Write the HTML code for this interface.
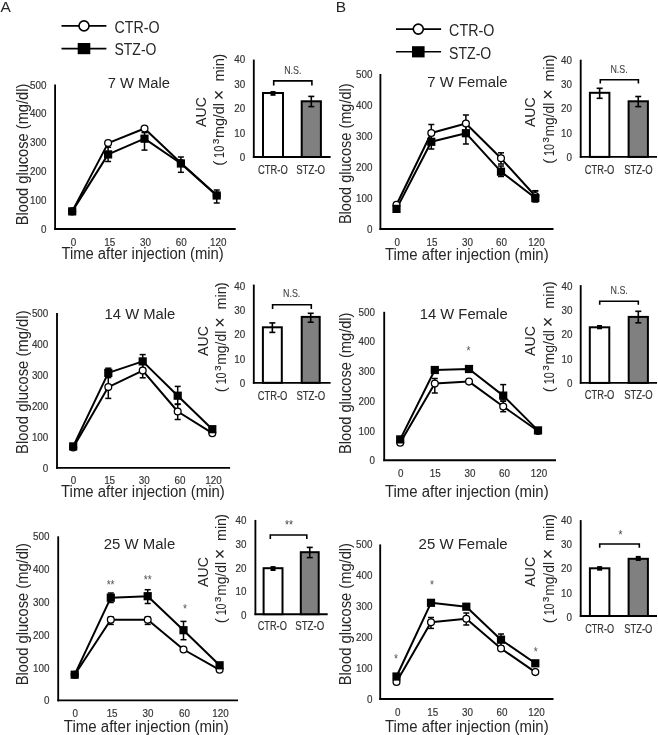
<!DOCTYPE html>
<html><head><meta charset="utf-8"><style>
html,body{margin:0;padding:0;background:#fff;}
svg{display:block;font-family:"Liberation Sans", sans-serif;will-change:transform;filter:blur(0.3px);}
</style></head><body>
<svg width="658" height="735" viewBox="0 0 658 735">
<rect width="658" height="735" fill="#fff"/>
<text x="0.60" y="11.60" font-size="15.5" text-anchor="start" fill="#262626">A</text>
<text x="335.80" y="11.70" font-size="15.5" text-anchor="start" fill="#262626">B</text>
<line x1="61.50" y1="25.90" x2="106.40" y2="25.90" stroke="#000" stroke-width="1.6"/>
<circle cx="84.0" cy="25.9" r="5.0" fill="#fff" stroke="#000" stroke-width="1.6"/>
<text x="114.50" y="32.80" font-size="16" text-anchor="start" fill="#262626" textLength="45.10" lengthAdjust="spacingAndGlyphs">CTR-O</text>
<line x1="61.50" y1="48.60" x2="106.40" y2="48.60" stroke="#000" stroke-width="1.6"/>
<rect x="77.7" y="43.0" width="12.6" height="11.2" fill="#000"/>
<text x="114.50" y="55.40" font-size="16" text-anchor="start" fill="#262626" textLength="41.90" lengthAdjust="spacingAndGlyphs">STZ-O</text>
<line x1="396.00" y1="29.10" x2="441.10" y2="29.10" stroke="#000" stroke-width="1.6"/>
<circle cx="418.3" cy="29.1" r="5.0" fill="#fff" stroke="#000" stroke-width="1.6"/>
<text x="449.10" y="36.00" font-size="16" text-anchor="start" fill="#262626" textLength="45.20" lengthAdjust="spacingAndGlyphs">CTR-O</text>
<line x1="396.00" y1="51.80" x2="441.10" y2="51.80" stroke="#000" stroke-width="1.6"/>
<rect x="412.0" y="46.199999999999996" width="12.6" height="11.2" fill="#000"/>
<text x="449.10" y="58.60" font-size="16" text-anchor="start" fill="#262626" textLength="42.20" lengthAdjust="spacingAndGlyphs">STZ-O</text>
<text transform="translate(46.40,233.00) scale(0.88,1)" font-size="11.2" text-anchor="end" fill="#333333" stroke="#333333" stroke-width="0.18">0</text>
<text transform="translate(46.40,204.10) scale(0.88,1)" font-size="11.2" text-anchor="end" fill="#333333" stroke="#333333" stroke-width="0.18">100</text>
<text transform="translate(46.40,175.20) scale(0.88,1)" font-size="11.2" text-anchor="end" fill="#333333" stroke="#333333" stroke-width="0.18">200</text>
<text transform="translate(46.40,146.30) scale(0.88,1)" font-size="11.2" text-anchor="end" fill="#333333" stroke="#333333" stroke-width="0.18">300</text>
<text transform="translate(46.40,117.40) scale(0.88,1)" font-size="11.2" text-anchor="end" fill="#333333" stroke="#333333" stroke-width="0.18">400</text>
<text transform="translate(46.40,88.50) scale(0.88,1)" font-size="11.2" text-anchor="end" fill="#333333" stroke="#333333" stroke-width="0.18">500</text>
<text transform="translate(73.50,245.60) scale(0.88,1)" font-size="11.2" text-anchor="middle" fill="#333333" stroke="#333333" stroke-width="0.18">0</text>
<text transform="translate(109.70,245.60) scale(0.88,1)" font-size="11.2" text-anchor="middle" fill="#333333" stroke="#333333" stroke-width="0.18">15</text>
<text transform="translate(145.40,245.60) scale(0.88,1)" font-size="11.2" text-anchor="middle" fill="#333333" stroke="#333333" stroke-width="0.18">30</text>
<text transform="translate(181.30,245.60) scale(0.88,1)" font-size="11.2" text-anchor="middle" fill="#333333" stroke="#333333" stroke-width="0.18">60</text>
<text transform="translate(218.20,245.60) scale(0.88,1)" font-size="11.2" text-anchor="middle" fill="#333333" stroke="#333333" stroke-width="0.18">120</text>
<text x="61.40" y="259.40" font-size="16" text-anchor="start" fill="#262626" textLength="162.40" lengthAdjust="spacingAndGlyphs">Time after injection (min)</text>
<text transform="translate(28.40,225.20) rotate(-90)" font-size="15.6" fill="#262626" textLength="141.50" lengthAdjust="spacingAndGlyphs">Blood glucose (mg/dl)</text>
<text x="107.70" y="87.90" font-size="15.5" text-anchor="start" fill="#262626" textLength="62.30" lengthAdjust="spacingAndGlyphs">7 W Male</text>
<line x1="55.10" y1="84.50" x2="55.10" y2="229.90" stroke="#000" stroke-width="1.85"/>
<line x1="54.20" y1="229.00" x2="235.70" y2="229.00" stroke="#000" stroke-width="1.85"/>
<line x1="108.10" y1="147.30" x2="108.10" y2="161.50" stroke="#000" stroke-width="1.5"/>
<line x1="105.10" y1="147.30" x2="111.10" y2="147.30" stroke="#000" stroke-width="1.5"/>
<line x1="105.10" y1="161.50" x2="111.10" y2="161.50" stroke="#000" stroke-width="1.5"/>
<line x1="144.50" y1="132.60" x2="144.50" y2="150.10" stroke="#000" stroke-width="1.5"/>
<line x1="141.50" y1="132.60" x2="147.50" y2="132.60" stroke="#000" stroke-width="1.5"/>
<line x1="141.50" y1="150.10" x2="147.50" y2="150.10" stroke="#000" stroke-width="1.5"/>
<line x1="180.90" y1="157.00" x2="180.90" y2="172.30" stroke="#000" stroke-width="1.5"/>
<line x1="177.90" y1="157.00" x2="183.90" y2="157.00" stroke="#000" stroke-width="1.5"/>
<line x1="177.90" y1="172.30" x2="183.90" y2="172.30" stroke="#000" stroke-width="1.5"/>
<line x1="216.70" y1="190.00" x2="216.70" y2="203.00" stroke="#000" stroke-width="1.5"/>
<line x1="213.70" y1="190.00" x2="219.70" y2="190.00" stroke="#000" stroke-width="1.5"/>
<line x1="213.70" y1="203.00" x2="219.70" y2="203.00" stroke="#000" stroke-width="1.5"/>
<polyline points="72.20,211.40 108.10,143.10 144.50,128.50 180.90,163.00 216.70,195.20" fill="none" stroke="#000" stroke-width="2" stroke-linejoin="round"/>
<polyline points="72.20,211.40 108.10,154.40 144.50,138.70 180.90,163.50 216.70,195.50" fill="none" stroke="#000" stroke-width="2" stroke-linejoin="round"/>
<circle cx="72.20" cy="211.40" r="3.4" fill="#fff" stroke="#000" stroke-width="1.3"/>
<circle cx="108.10" cy="143.10" r="3.4" fill="#fff" stroke="#000" stroke-width="1.3"/>
<circle cx="144.50" cy="128.50" r="3.4" fill="#fff" stroke="#000" stroke-width="1.3"/>
<circle cx="180.90" cy="163.00" r="3.4" fill="#fff" stroke="#000" stroke-width="1.3"/>
<circle cx="216.70" cy="195.20" r="3.4" fill="#fff" stroke="#000" stroke-width="1.3"/>
<rect x="68.10" y="207.30" width="8.2" height="8.2" fill="#000"/>
<rect x="104.00" y="150.30" width="8.2" height="8.2" fill="#000"/>
<rect x="140.40" y="134.60" width="8.2" height="8.2" fill="#000"/>
<rect x="176.80" y="159.40" width="8.2" height="8.2" fill="#000"/>
<rect x="212.60" y="191.40" width="8.2" height="8.2" fill="#000"/>
<text transform="translate(48.30,471.80) scale(0.88,1)" font-size="11.2" text-anchor="end" fill="#333333" stroke="#333333" stroke-width="0.18">0</text>
<text transform="translate(48.30,440.86) scale(0.88,1)" font-size="11.2" text-anchor="end" fill="#333333" stroke="#333333" stroke-width="0.18">100</text>
<text transform="translate(48.30,409.92) scale(0.88,1)" font-size="11.2" text-anchor="end" fill="#333333" stroke="#333333" stroke-width="0.18">200</text>
<text transform="translate(48.30,378.98) scale(0.88,1)" font-size="11.2" text-anchor="end" fill="#333333" stroke="#333333" stroke-width="0.18">300</text>
<text transform="translate(48.30,348.04) scale(0.88,1)" font-size="11.2" text-anchor="end" fill="#333333" stroke="#333333" stroke-width="0.18">400</text>
<text transform="translate(48.30,317.10) scale(0.88,1)" font-size="11.2" text-anchor="end" fill="#333333" stroke="#333333" stroke-width="0.18">500</text>
<text transform="translate(73.50,484.40) scale(0.88,1)" font-size="11.2" text-anchor="middle" fill="#333333" stroke="#333333" stroke-width="0.18">0</text>
<text transform="translate(109.60,484.40) scale(0.88,1)" font-size="11.2" text-anchor="middle" fill="#333333" stroke="#333333" stroke-width="0.18">15</text>
<text transform="translate(144.20,484.40) scale(0.88,1)" font-size="11.2" text-anchor="middle" fill="#333333" stroke="#333333" stroke-width="0.18">30</text>
<text transform="translate(180.00,484.40) scale(0.88,1)" font-size="11.2" text-anchor="middle" fill="#333333" stroke="#333333" stroke-width="0.18">60</text>
<text transform="translate(213.50,484.40) scale(0.88,1)" font-size="11.2" text-anchor="middle" fill="#333333" stroke="#333333" stroke-width="0.18">120</text>
<text x="61.00" y="496.70" font-size="16" text-anchor="start" fill="#262626" textLength="163.80" lengthAdjust="spacingAndGlyphs">Time after injection (min)</text>
<text transform="translate(28.20,453.90) rotate(-90)" font-size="15.6" fill="#262626" textLength="143.50" lengthAdjust="spacingAndGlyphs">Blood glucose (mg/dl)</text>
<text x="104.60" y="318.60" font-size="15.5" text-anchor="start" fill="#262626" textLength="70.60" lengthAdjust="spacingAndGlyphs">14 W Male</text>
<line x1="57.00" y1="313.10" x2="57.00" y2="468.70" stroke="#000" stroke-width="1.85"/>
<line x1="56.10" y1="467.80" x2="230.10" y2="467.80" stroke="#000" stroke-width="1.85"/>
<line x1="108.30" y1="375.80" x2="108.30" y2="398.40" stroke="#000" stroke-width="1.5"/>
<line x1="105.30" y1="375.80" x2="111.30" y2="375.80" stroke="#000" stroke-width="1.5"/>
<line x1="105.30" y1="398.40" x2="111.30" y2="398.40" stroke="#000" stroke-width="1.5"/>
<line x1="142.70" y1="363.40" x2="142.70" y2="377.80" stroke="#000" stroke-width="1.5"/>
<line x1="139.70" y1="363.40" x2="145.70" y2="363.40" stroke="#000" stroke-width="1.5"/>
<line x1="139.70" y1="377.80" x2="145.70" y2="377.80" stroke="#000" stroke-width="1.5"/>
<line x1="177.70" y1="404.40" x2="177.70" y2="419.50" stroke="#000" stroke-width="1.5"/>
<line x1="174.70" y1="404.40" x2="180.70" y2="404.40" stroke="#000" stroke-width="1.5"/>
<line x1="174.70" y1="419.50" x2="180.70" y2="419.50" stroke="#000" stroke-width="1.5"/>
<line x1="108.30" y1="368.20" x2="108.30" y2="377.60" stroke="#000" stroke-width="1.5"/>
<line x1="105.30" y1="368.20" x2="111.30" y2="368.20" stroke="#000" stroke-width="1.5"/>
<line x1="105.30" y1="377.60" x2="111.30" y2="377.60" stroke="#000" stroke-width="1.5"/>
<line x1="142.70" y1="354.60" x2="142.70" y2="368.40" stroke="#000" stroke-width="1.5"/>
<line x1="139.70" y1="354.60" x2="145.70" y2="354.60" stroke="#000" stroke-width="1.5"/>
<line x1="139.70" y1="368.40" x2="145.70" y2="368.40" stroke="#000" stroke-width="1.5"/>
<line x1="177.70" y1="386.40" x2="177.70" y2="404.00" stroke="#000" stroke-width="1.5"/>
<line x1="174.70" y1="386.40" x2="180.70" y2="386.40" stroke="#000" stroke-width="1.5"/>
<line x1="174.70" y1="404.00" x2="180.70" y2="404.00" stroke="#000" stroke-width="1.5"/>
<polyline points="73.20,447.50 108.30,387.10 142.70,370.60 177.70,411.50 212.30,433.20" fill="none" stroke="#000" stroke-width="2" stroke-linejoin="round"/>
<polyline points="73.20,446.40 108.30,372.90 142.70,361.40 177.70,395.70 212.30,429.20" fill="none" stroke="#000" stroke-width="2" stroke-linejoin="round"/>
<circle cx="73.20" cy="447.50" r="3.4" fill="#fff" stroke="#000" stroke-width="1.3"/>
<circle cx="108.30" cy="387.10" r="3.4" fill="#fff" stroke="#000" stroke-width="1.3"/>
<circle cx="142.70" cy="370.60" r="3.4" fill="#fff" stroke="#000" stroke-width="1.3"/>
<circle cx="177.70" cy="411.50" r="3.4" fill="#fff" stroke="#000" stroke-width="1.3"/>
<circle cx="212.30" cy="433.20" r="3.4" fill="#fff" stroke="#000" stroke-width="1.3"/>
<rect x="69.10" y="442.30" width="8.2" height="8.2" fill="#000"/>
<rect x="104.20" y="368.80" width="8.2" height="8.2" fill="#000"/>
<rect x="138.60" y="357.30" width="8.2" height="8.2" fill="#000"/>
<rect x="173.60" y="391.60" width="8.2" height="8.2" fill="#000"/>
<rect x="208.20" y="425.10" width="8.2" height="8.2" fill="#000"/>
<text transform="translate(49.50,704.40) scale(0.88,1)" font-size="11.2" text-anchor="end" fill="#333333" stroke="#333333" stroke-width="0.18">0</text>
<text transform="translate(49.50,671.58) scale(0.88,1)" font-size="11.2" text-anchor="end" fill="#333333" stroke="#333333" stroke-width="0.18">100</text>
<text transform="translate(49.50,638.76) scale(0.88,1)" font-size="11.2" text-anchor="end" fill="#333333" stroke="#333333" stroke-width="0.18">200</text>
<text transform="translate(49.50,605.94) scale(0.88,1)" font-size="11.2" text-anchor="end" fill="#333333" stroke="#333333" stroke-width="0.18">300</text>
<text transform="translate(49.50,573.12) scale(0.88,1)" font-size="11.2" text-anchor="end" fill="#333333" stroke="#333333" stroke-width="0.18">400</text>
<text transform="translate(49.50,540.30) scale(0.88,1)" font-size="11.2" text-anchor="end" fill="#333333" stroke="#333333" stroke-width="0.18">500</text>
<text transform="translate(75.20,717.00) scale(0.88,1)" font-size="11.2" text-anchor="middle" fill="#333333" stroke="#333333" stroke-width="0.18">0</text>
<text transform="translate(112.10,717.00) scale(0.88,1)" font-size="11.2" text-anchor="middle" fill="#333333" stroke="#333333" stroke-width="0.18">15</text>
<text transform="translate(147.90,717.00) scale(0.88,1)" font-size="11.2" text-anchor="middle" fill="#333333" stroke="#333333" stroke-width="0.18">30</text>
<text transform="translate(184.50,717.00) scale(0.88,1)" font-size="11.2" text-anchor="middle" fill="#333333" stroke="#333333" stroke-width="0.18">60</text>
<text transform="translate(220.50,717.00) scale(0.88,1)" font-size="11.2" text-anchor="middle" fill="#333333" stroke="#333333" stroke-width="0.18">120</text>
<text x="63.80" y="731.60" font-size="16" text-anchor="start" fill="#262626" textLength="164.90" lengthAdjust="spacingAndGlyphs">Time after injection (min)</text>
<text transform="translate(28.20,685.20) rotate(-90)" font-size="15.6" fill="#262626" textLength="142.20" lengthAdjust="spacingAndGlyphs">Blood glucose (mg/dl)</text>
<text x="103.80" y="548.60" font-size="15.5" text-anchor="start" fill="#262626" textLength="71.40" lengthAdjust="spacingAndGlyphs">25 W Male</text>
<line x1="58.20" y1="536.30" x2="58.20" y2="701.30" stroke="#000" stroke-width="1.85"/>
<line x1="57.30" y1="700.40" x2="238.00" y2="700.40" stroke="#000" stroke-width="1.85"/>
<line x1="110.80" y1="617.00" x2="110.80" y2="624.40" stroke="#000" stroke-width="1.5"/>
<line x1="107.80" y1="617.00" x2="113.80" y2="617.00" stroke="#000" stroke-width="1.5"/>
<line x1="107.80" y1="624.40" x2="113.80" y2="624.40" stroke="#000" stroke-width="1.5"/>
<line x1="147.70" y1="617.00" x2="147.70" y2="624.40" stroke="#000" stroke-width="1.5"/>
<line x1="144.70" y1="617.00" x2="150.70" y2="617.00" stroke="#000" stroke-width="1.5"/>
<line x1="144.70" y1="624.40" x2="150.70" y2="624.40" stroke="#000" stroke-width="1.5"/>
<line x1="110.80" y1="593.00" x2="110.80" y2="602.50" stroke="#000" stroke-width="1.5"/>
<line x1="107.80" y1="593.00" x2="113.80" y2="593.00" stroke="#000" stroke-width="1.5"/>
<line x1="107.80" y1="602.50" x2="113.80" y2="602.50" stroke="#000" stroke-width="1.5"/>
<line x1="147.70" y1="589.70" x2="147.70" y2="603.50" stroke="#000" stroke-width="1.5"/>
<line x1="144.70" y1="589.70" x2="150.70" y2="589.70" stroke="#000" stroke-width="1.5"/>
<line x1="144.70" y1="603.50" x2="150.70" y2="603.50" stroke="#000" stroke-width="1.5"/>
<line x1="183.50" y1="621.40" x2="183.50" y2="639.70" stroke="#000" stroke-width="1.5"/>
<line x1="180.50" y1="621.40" x2="186.50" y2="621.40" stroke="#000" stroke-width="1.5"/>
<line x1="180.50" y1="639.70" x2="186.50" y2="639.70" stroke="#000" stroke-width="1.5"/>
<polyline points="74.70,674.70 110.80,619.70 147.70,619.70 183.50,649.50 219.60,669.80" fill="none" stroke="#000" stroke-width="2" stroke-linejoin="round"/>
<polyline points="74.70,674.70 110.80,597.70 147.70,596.20 183.50,630.20 219.60,665.30" fill="none" stroke="#000" stroke-width="2" stroke-linejoin="round"/>
<circle cx="74.70" cy="674.70" r="3.4" fill="#fff" stroke="#000" stroke-width="1.3"/>
<circle cx="110.80" cy="619.70" r="3.4" fill="#fff" stroke="#000" stroke-width="1.3"/>
<circle cx="147.70" cy="619.70" r="3.4" fill="#fff" stroke="#000" stroke-width="1.3"/>
<circle cx="183.50" cy="649.50" r="3.4" fill="#fff" stroke="#000" stroke-width="1.3"/>
<circle cx="219.60" cy="669.80" r="3.4" fill="#fff" stroke="#000" stroke-width="1.3"/>
<rect x="70.60" y="670.60" width="8.2" height="8.2" fill="#000"/>
<rect x="106.70" y="593.60" width="8.2" height="8.2" fill="#000"/>
<rect x="143.60" y="592.10" width="8.2" height="8.2" fill="#000"/>
<rect x="179.40" y="626.10" width="8.2" height="8.2" fill="#000"/>
<rect x="215.50" y="661.20" width="8.2" height="8.2" fill="#000"/>
<text transform="translate(110.60,588.80) scale(0.85,1)" font-size="12" text-anchor="middle" fill="#555">**</text>
<text transform="translate(147.80,584.30) scale(0.85,1)" font-size="12" text-anchor="middle" fill="#555">**</text>
<text transform="translate(185.00,612.80) scale(0.85,1)" font-size="12" text-anchor="middle" fill="#555">*</text>
<text transform="translate(372.50,233.00) scale(0.88,1)" font-size="11.2" text-anchor="end" fill="#333333" stroke="#333333" stroke-width="0.18">0</text>
<text transform="translate(372.50,202.00) scale(0.88,1)" font-size="11.2" text-anchor="end" fill="#333333" stroke="#333333" stroke-width="0.18">100</text>
<text transform="translate(372.50,171.00) scale(0.88,1)" font-size="11.2" text-anchor="end" fill="#333333" stroke="#333333" stroke-width="0.18">200</text>
<text transform="translate(372.50,140.00) scale(0.88,1)" font-size="11.2" text-anchor="end" fill="#333333" stroke="#333333" stroke-width="0.18">300</text>
<text transform="translate(372.50,109.00) scale(0.88,1)" font-size="11.2" text-anchor="end" fill="#333333" stroke="#333333" stroke-width="0.18">400</text>
<text transform="translate(372.50,78.00) scale(0.88,1)" font-size="11.2" text-anchor="end" fill="#333333" stroke="#333333" stroke-width="0.18">500</text>
<text transform="translate(397.20,246.40) scale(0.88,1)" font-size="11.2" text-anchor="middle" fill="#333333" stroke="#333333" stroke-width="0.18">0</text>
<text transform="translate(432.00,246.40) scale(0.88,1)" font-size="11.2" text-anchor="middle" fill="#333333" stroke="#333333" stroke-width="0.18">15</text>
<text transform="translate(467.40,246.40) scale(0.88,1)" font-size="11.2" text-anchor="middle" fill="#333333" stroke="#333333" stroke-width="0.18">30</text>
<text transform="translate(501.50,246.40) scale(0.88,1)" font-size="11.2" text-anchor="middle" fill="#333333" stroke="#333333" stroke-width="0.18">60</text>
<text transform="translate(536.50,246.40) scale(0.88,1)" font-size="11.2" text-anchor="middle" fill="#333333" stroke="#333333" stroke-width="0.18">120</text>
<text x="385.00" y="259.50" font-size="16" text-anchor="start" fill="#262626" textLength="163.60" lengthAdjust="spacingAndGlyphs">Time after injection (min)</text>
<text transform="translate(350.80,224.10) rotate(-90)" font-size="15.6" fill="#262626" textLength="140.80" lengthAdjust="spacingAndGlyphs">Blood glucose (mg/dl)</text>
<text x="427.30" y="87.00" font-size="15.5" text-anchor="start" fill="#262626" textLength="80.20" lengthAdjust="spacingAndGlyphs">7 W Female</text>
<line x1="380.40" y1="74.00" x2="380.40" y2="229.90" stroke="#000" stroke-width="1.85"/>
<line x1="379.50" y1="229.00" x2="553.50" y2="229.00" stroke="#000" stroke-width="1.85"/>
<line x1="431.30" y1="124.50" x2="431.30" y2="141.50" stroke="#000" stroke-width="1.5"/>
<line x1="428.30" y1="124.50" x2="434.30" y2="124.50" stroke="#000" stroke-width="1.5"/>
<line x1="428.30" y1="141.50" x2="434.30" y2="141.50" stroke="#000" stroke-width="1.5"/>
<line x1="465.90" y1="115.00" x2="465.90" y2="132.00" stroke="#000" stroke-width="1.5"/>
<line x1="462.90" y1="115.00" x2="468.90" y2="115.00" stroke="#000" stroke-width="1.5"/>
<line x1="462.90" y1="132.00" x2="468.90" y2="132.00" stroke="#000" stroke-width="1.5"/>
<line x1="501.00" y1="152.80" x2="501.00" y2="164.00" stroke="#000" stroke-width="1.5"/>
<line x1="498.00" y1="152.80" x2="504.00" y2="152.80" stroke="#000" stroke-width="1.5"/>
<line x1="498.00" y1="164.00" x2="504.00" y2="164.00" stroke="#000" stroke-width="1.5"/>
<line x1="535.30" y1="191.00" x2="535.30" y2="200.00" stroke="#000" stroke-width="1.5"/>
<line x1="532.30" y1="191.00" x2="538.30" y2="191.00" stroke="#000" stroke-width="1.5"/>
<line x1="532.30" y1="200.00" x2="538.30" y2="200.00" stroke="#000" stroke-width="1.5"/>
<line x1="431.30" y1="135.00" x2="431.30" y2="149.00" stroke="#000" stroke-width="1.5"/>
<line x1="428.30" y1="135.00" x2="434.30" y2="135.00" stroke="#000" stroke-width="1.5"/>
<line x1="428.30" y1="149.00" x2="434.30" y2="149.00" stroke="#000" stroke-width="1.5"/>
<line x1="465.90" y1="122.50" x2="465.90" y2="144.00" stroke="#000" stroke-width="1.5"/>
<line x1="462.90" y1="122.50" x2="468.90" y2="122.50" stroke="#000" stroke-width="1.5"/>
<line x1="462.90" y1="144.00" x2="468.90" y2="144.00" stroke="#000" stroke-width="1.5"/>
<line x1="501.00" y1="166.00" x2="501.00" y2="176.50" stroke="#000" stroke-width="1.5"/>
<line x1="498.00" y1="166.00" x2="504.00" y2="166.00" stroke="#000" stroke-width="1.5"/>
<line x1="498.00" y1="176.50" x2="504.00" y2="176.50" stroke="#000" stroke-width="1.5"/>
<line x1="535.30" y1="190.70" x2="535.30" y2="202.00" stroke="#000" stroke-width="1.5"/>
<line x1="532.30" y1="190.70" x2="538.30" y2="190.70" stroke="#000" stroke-width="1.5"/>
<line x1="532.30" y1="202.00" x2="538.30" y2="202.00" stroke="#000" stroke-width="1.5"/>
<polyline points="396.50,204.70 431.30,133.00 465.90,123.50 501.00,158.30 535.30,196.00" fill="none" stroke="#000" stroke-width="2" stroke-linejoin="round"/>
<polyline points="396.50,208.90 431.30,141.80 465.90,133.20 501.00,171.70 535.30,198.00" fill="none" stroke="#000" stroke-width="2" stroke-linejoin="round"/>
<circle cx="396.50" cy="204.70" r="3.4" fill="#fff" stroke="#000" stroke-width="1.3"/>
<circle cx="431.30" cy="133.00" r="3.4" fill="#fff" stroke="#000" stroke-width="1.3"/>
<circle cx="465.90" cy="123.50" r="3.4" fill="#fff" stroke="#000" stroke-width="1.3"/>
<circle cx="501.00" cy="158.30" r="3.4" fill="#fff" stroke="#000" stroke-width="1.3"/>
<circle cx="535.30" cy="196.00" r="3.4" fill="#fff" stroke="#000" stroke-width="1.3"/>
<rect x="392.40" y="204.80" width="8.2" height="8.2" fill="#000"/>
<rect x="427.20" y="137.70" width="8.2" height="8.2" fill="#000"/>
<rect x="461.80" y="129.10" width="8.2" height="8.2" fill="#000"/>
<rect x="496.90" y="167.60" width="8.2" height="8.2" fill="#000"/>
<rect x="531.20" y="193.90" width="8.2" height="8.2" fill="#000"/>
<text transform="translate(375.00,464.20) scale(0.88,1)" font-size="11.2" text-anchor="end" fill="#333333" stroke="#333333" stroke-width="0.18">0</text>
<text transform="translate(375.00,434.52) scale(0.88,1)" font-size="11.2" text-anchor="end" fill="#333333" stroke="#333333" stroke-width="0.18">100</text>
<text transform="translate(375.00,404.84) scale(0.88,1)" font-size="11.2" text-anchor="end" fill="#333333" stroke="#333333" stroke-width="0.18">200</text>
<text transform="translate(375.00,375.16) scale(0.88,1)" font-size="11.2" text-anchor="end" fill="#333333" stroke="#333333" stroke-width="0.18">300</text>
<text transform="translate(375.00,345.48) scale(0.88,1)" font-size="11.2" text-anchor="end" fill="#333333" stroke="#333333" stroke-width="0.18">400</text>
<text transform="translate(375.00,315.80) scale(0.88,1)" font-size="11.2" text-anchor="end" fill="#333333" stroke="#333333" stroke-width="0.18">500</text>
<text transform="translate(400.70,477.30) scale(0.88,1)" font-size="11.2" text-anchor="middle" fill="#333333" stroke="#333333" stroke-width="0.18">0</text>
<text transform="translate(435.30,477.30) scale(0.88,1)" font-size="11.2" text-anchor="middle" fill="#333333" stroke="#333333" stroke-width="0.18">15</text>
<text transform="translate(469.90,477.30) scale(0.88,1)" font-size="11.2" text-anchor="middle" fill="#333333" stroke="#333333" stroke-width="0.18">30</text>
<text transform="translate(504.50,477.30) scale(0.88,1)" font-size="11.2" text-anchor="middle" fill="#333333" stroke="#333333" stroke-width="0.18">60</text>
<text transform="translate(539.00,477.30) scale(0.88,1)" font-size="11.2" text-anchor="middle" fill="#333333" stroke="#333333" stroke-width="0.18">120</text>
<text x="385.00" y="496.90" font-size="16" text-anchor="start" fill="#262626" textLength="163.60" lengthAdjust="spacingAndGlyphs">Time after injection (min)</text>
<text transform="translate(350.80,454.00) rotate(-90)" font-size="15.6" fill="#262626" textLength="141.50" lengthAdjust="spacingAndGlyphs">Blood glucose (mg/dl)</text>
<text x="419.80" y="318.70" font-size="15.5" text-anchor="start" fill="#262626" textLength="87.80" lengthAdjust="spacingAndGlyphs">14 W Female</text>
<line x1="384.20" y1="311.80" x2="384.20" y2="461.10" stroke="#000" stroke-width="1.85"/>
<line x1="383.30" y1="460.20" x2="556.00" y2="460.20" stroke="#000" stroke-width="1.85"/>
<line x1="434.80" y1="378.50" x2="434.80" y2="393.00" stroke="#000" stroke-width="1.5"/>
<line x1="431.80" y1="378.50" x2="437.80" y2="378.50" stroke="#000" stroke-width="1.5"/>
<line x1="431.80" y1="393.00" x2="437.80" y2="393.00" stroke="#000" stroke-width="1.5"/>
<line x1="503.20" y1="401.30" x2="503.20" y2="411.70" stroke="#000" stroke-width="1.5"/>
<line x1="500.20" y1="401.30" x2="506.20" y2="401.30" stroke="#000" stroke-width="1.5"/>
<line x1="500.20" y1="411.70" x2="506.20" y2="411.70" stroke="#000" stroke-width="1.5"/>
<line x1="503.20" y1="384.60" x2="503.20" y2="400.00" stroke="#000" stroke-width="1.5"/>
<line x1="500.20" y1="384.60" x2="506.20" y2="384.60" stroke="#000" stroke-width="1.5"/>
<line x1="500.20" y1="400.00" x2="506.20" y2="400.00" stroke="#000" stroke-width="1.5"/>
<polyline points="400.20,442.70 434.80,383.60 469.00,381.60 503.20,406.50 538.00,431.00" fill="none" stroke="#000" stroke-width="2" stroke-linejoin="round"/>
<polyline points="400.20,439.40 434.80,370.00 469.00,369.00 503.20,395.60 538.00,430.40" fill="none" stroke="#000" stroke-width="2" stroke-linejoin="round"/>
<circle cx="400.20" cy="442.70" r="3.4" fill="#fff" stroke="#000" stroke-width="1.3"/>
<circle cx="434.80" cy="383.60" r="3.4" fill="#fff" stroke="#000" stroke-width="1.3"/>
<circle cx="469.00" cy="381.60" r="3.4" fill="#fff" stroke="#000" stroke-width="1.3"/>
<circle cx="503.20" cy="406.50" r="3.4" fill="#fff" stroke="#000" stroke-width="1.3"/>
<circle cx="538.00" cy="431.00" r="3.4" fill="#fff" stroke="#000" stroke-width="1.3"/>
<rect x="396.10" y="435.30" width="8.2" height="8.2" fill="#000"/>
<rect x="430.70" y="365.90" width="8.2" height="8.2" fill="#000"/>
<rect x="464.90" y="364.90" width="8.2" height="8.2" fill="#000"/>
<rect x="499.10" y="391.50" width="8.2" height="8.2" fill="#000"/>
<rect x="533.90" y="426.30" width="8.2" height="8.2" fill="#000"/>
<text transform="translate(468.60,355.00) scale(0.85,1)" font-size="12" text-anchor="middle" fill="#555">*</text>
<text transform="translate(372.50,703.00) scale(0.88,1)" font-size="11.2" text-anchor="end" fill="#333333" stroke="#333333" stroke-width="0.18">0</text>
<text transform="translate(372.50,672.08) scale(0.88,1)" font-size="11.2" text-anchor="end" fill="#333333" stroke="#333333" stroke-width="0.18">100</text>
<text transform="translate(372.50,641.16) scale(0.88,1)" font-size="11.2" text-anchor="end" fill="#333333" stroke="#333333" stroke-width="0.18">200</text>
<text transform="translate(372.50,610.24) scale(0.88,1)" font-size="11.2" text-anchor="end" fill="#333333" stroke="#333333" stroke-width="0.18">300</text>
<text transform="translate(372.50,579.32) scale(0.88,1)" font-size="11.2" text-anchor="end" fill="#333333" stroke="#333333" stroke-width="0.18">400</text>
<text transform="translate(372.50,548.40) scale(0.88,1)" font-size="11.2" text-anchor="end" fill="#333333" stroke="#333333" stroke-width="0.18">500</text>
<text transform="translate(397.70,715.60) scale(0.88,1)" font-size="11.2" text-anchor="middle" fill="#333333" stroke="#333333" stroke-width="0.18">0</text>
<text transform="translate(432.80,715.60) scale(0.88,1)" font-size="11.2" text-anchor="middle" fill="#333333" stroke="#333333" stroke-width="0.18">15</text>
<text transform="translate(467.40,715.60) scale(0.88,1)" font-size="11.2" text-anchor="middle" fill="#333333" stroke="#333333" stroke-width="0.18">30</text>
<text transform="translate(502.00,715.60) scale(0.88,1)" font-size="11.2" text-anchor="middle" fill="#333333" stroke="#333333" stroke-width="0.18">60</text>
<text transform="translate(536.50,715.60) scale(0.88,1)" font-size="11.2" text-anchor="middle" fill="#333333" stroke="#333333" stroke-width="0.18">120</text>
<text x="385.00" y="731.60" font-size="16" text-anchor="start" fill="#262626" textLength="163.60" lengthAdjust="spacingAndGlyphs">Time after injection (min)</text>
<text transform="translate(350.80,685.20) rotate(-90)" font-size="15.6" fill="#262626" textLength="142.20" lengthAdjust="spacingAndGlyphs">Blood glucose (mg/dl)</text>
<text x="418.60" y="548.70" font-size="15.5" text-anchor="start" fill="#262626" textLength="89.00" lengthAdjust="spacingAndGlyphs">25 W Female</text>
<line x1="380.20" y1="544.40" x2="380.20" y2="699.90" stroke="#000" stroke-width="1.85"/>
<line x1="379.30" y1="699.00" x2="553.50" y2="699.00" stroke="#000" stroke-width="1.85"/>
<line x1="431.00" y1="617.50" x2="431.00" y2="628.40" stroke="#000" stroke-width="1.5"/>
<line x1="428.00" y1="617.50" x2="434.00" y2="617.50" stroke="#000" stroke-width="1.5"/>
<line x1="428.00" y1="628.40" x2="434.00" y2="628.40" stroke="#000" stroke-width="1.5"/>
<line x1="466.30" y1="613.00" x2="466.30" y2="625.00" stroke="#000" stroke-width="1.5"/>
<line x1="463.30" y1="613.00" x2="469.30" y2="613.00" stroke="#000" stroke-width="1.5"/>
<line x1="463.30" y1="625.00" x2="469.30" y2="625.00" stroke="#000" stroke-width="1.5"/>
<line x1="501.00" y1="634.00" x2="501.00" y2="646.00" stroke="#000" stroke-width="1.5"/>
<line x1="498.00" y1="634.00" x2="504.00" y2="634.00" stroke="#000" stroke-width="1.5"/>
<line x1="498.00" y1="646.00" x2="504.00" y2="646.00" stroke="#000" stroke-width="1.5"/>
<polyline points="396.50,682.00 431.00,622.20 466.30,618.80 501.00,648.50 535.30,672.10" fill="none" stroke="#000" stroke-width="2" stroke-linejoin="round"/>
<polyline points="396.50,676.50 431.00,602.80 466.30,606.70 501.00,639.70 535.30,663.30" fill="none" stroke="#000" stroke-width="2" stroke-linejoin="round"/>
<circle cx="396.50" cy="682.00" r="3.4" fill="#fff" stroke="#000" stroke-width="1.3"/>
<circle cx="431.00" cy="622.20" r="3.4" fill="#fff" stroke="#000" stroke-width="1.3"/>
<circle cx="466.30" cy="618.80" r="3.4" fill="#fff" stroke="#000" stroke-width="1.3"/>
<circle cx="501.00" cy="648.50" r="3.4" fill="#fff" stroke="#000" stroke-width="1.3"/>
<circle cx="535.30" cy="672.10" r="3.4" fill="#fff" stroke="#000" stroke-width="1.3"/>
<rect x="392.40" y="672.40" width="8.2" height="8.2" fill="#000"/>
<rect x="426.90" y="598.70" width="8.2" height="8.2" fill="#000"/>
<rect x="462.20" y="602.60" width="8.2" height="8.2" fill="#000"/>
<rect x="496.90" y="635.60" width="8.2" height="8.2" fill="#000"/>
<rect x="531.20" y="659.20" width="8.2" height="8.2" fill="#000"/>
<text transform="translate(432.00,588.80) scale(0.85,1)" font-size="12" text-anchor="middle" fill="#555">*</text>
<text transform="translate(396.00,663.30) scale(0.85,1)" font-size="12" text-anchor="middle" fill="#555">*</text>
<text transform="translate(535.80,655.80) scale(0.85,1)" font-size="12" text-anchor="middle" fill="#555">*</text>
<text transform="translate(245.20,161.40) scale(0.88,1)" font-size="11.2" text-anchor="end" fill="#333333" stroke="#333333" stroke-width="0.18">0</text>
<text transform="translate(245.20,136.88) scale(0.88,1)" font-size="11.2" text-anchor="end" fill="#333333" stroke="#333333" stroke-width="0.18">10</text>
<text transform="translate(245.20,112.35) scale(0.88,1)" font-size="11.2" text-anchor="end" fill="#333333" stroke="#333333" stroke-width="0.18">20</text>
<text transform="translate(245.20,87.83) scale(0.88,1)" font-size="11.2" text-anchor="end" fill="#333333" stroke="#333333" stroke-width="0.18">30</text>
<text transform="translate(245.20,63.30) scale(0.88,1)" font-size="11.2" text-anchor="end" fill="#333333" stroke="#333333" stroke-width="0.18">40</text>
<line x1="253.80" y1="59.60" x2="253.80" y2="157.90" stroke="#000" stroke-width="1.85"/>
<line x1="252.90" y1="157.00" x2="330.60" y2="157.00" stroke="#000" stroke-width="1.85"/>
<rect x="263.00" y="93.00" width="20.00" height="64.00" fill="#fff" stroke="#000" stroke-width="2"/>
<rect x="301.70" y="101.30" width="19.20" height="55.70" fill="#808080" stroke="#000" stroke-width="2"/>
<rect x="270.50" y="91.00" width="5.0" height="4.80" fill="#000"/>
<line x1="311.30" y1="96.40" x2="311.30" y2="106.60" stroke="#000" stroke-width="1.6"/>
<line x1="308.30" y1="96.40" x2="314.30" y2="96.40" stroke="#000" stroke-width="1.6"/>
<line x1="308.30" y1="106.60" x2="314.30" y2="106.60" stroke="#000" stroke-width="1.6"/>
<polyline points="273.70,85.60 273.70,80.90 311.90,80.90 311.90,85.60" fill="none" stroke="#000" stroke-width="1.6"/>
<text x="292.80" y="73.60" font-size="10.3" text-anchor="middle" fill="#444" stroke="#444" stroke-width="0.1" textLength="17.30" lengthAdjust="spacingAndGlyphs">N.S.</text>
<text x="258.00" y="173.60" font-size="11.9" text-anchor="start" fill="#333333" stroke="#333333" stroke-width="0.18" textLength="29.70" lengthAdjust="spacingAndGlyphs">CTR-O</text>
<text x="296.20" y="173.60" font-size="11.9" text-anchor="start" fill="#333333" stroke="#333333" stroke-width="0.18" textLength="28.90" lengthAdjust="spacingAndGlyphs">STZ-O</text>
<text transform="translate(205.70,112.00) rotate(-90)" font-size="14.5" text-anchor="middle" fill="#262626" textLength="29.80" lengthAdjust="spacingAndGlyphs">AUC</text>
<text transform="translate(224.30,163.35) rotate(-90)" font-size="15" text-anchor="middle" fill="#262626">(</text>
<text transform="translate(224.00,151.80) rotate(-90)" font-size="15.5" text-anchor="middle" fill="#262626" textLength="12.20" lengthAdjust="spacingAndGlyphs">10</text>
<text transform="translate(219.00,141.40) rotate(-90)" font-size="9.5" text-anchor="middle" fill="#262626" stroke="#262626" stroke-width="0.18">3</text>
<text transform="translate(224.00,120.55) rotate(-90)" font-size="15" text-anchor="middle" fill="#262626" textLength="34.70" lengthAdjust="spacingAndGlyphs">mg/dl</text>
<text transform="translate(224.60,94.90) rotate(-90)" font-size="18" text-anchor="middle" fill="#262626">×</text>
<text transform="translate(224.00,69.80) rotate(-90)" font-size="15" text-anchor="middle" fill="#262626" textLength="23.50" lengthAdjust="spacingAndGlyphs">min</text>
<text transform="translate(224.30,56.35) rotate(-90)" font-size="15" text-anchor="middle" fill="#262626">)</text>
<text transform="translate(245.20,387.00) scale(0.88,1)" font-size="11.2" text-anchor="end" fill="#333333" stroke="#333333" stroke-width="0.18">0</text>
<text transform="translate(245.20,362.65) scale(0.88,1)" font-size="11.2" text-anchor="end" fill="#333333" stroke="#333333" stroke-width="0.18">10</text>
<text transform="translate(245.20,338.30) scale(0.88,1)" font-size="11.2" text-anchor="end" fill="#333333" stroke="#333333" stroke-width="0.18">20</text>
<text transform="translate(245.20,313.95) scale(0.88,1)" font-size="11.2" text-anchor="end" fill="#333333" stroke="#333333" stroke-width="0.18">30</text>
<text transform="translate(245.20,289.60) scale(0.88,1)" font-size="11.2" text-anchor="end" fill="#333333" stroke="#333333" stroke-width="0.18">40</text>
<line x1="253.80" y1="284.60" x2="253.80" y2="383.70" stroke="#000" stroke-width="1.85"/>
<line x1="252.90" y1="382.80" x2="330.60" y2="382.80" stroke="#000" stroke-width="1.85"/>
<rect x="262.90" y="327.30" width="18.90" height="55.50" fill="#fff" stroke="#000" stroke-width="2"/>
<rect x="301.70" y="316.90" width="18.00" height="65.90" fill="#808080" stroke="#000" stroke-width="2"/>
<line x1="272.35" y1="322.90" x2="272.35" y2="332.40" stroke="#000" stroke-width="1.6"/>
<line x1="269.35" y1="322.90" x2="275.35" y2="322.90" stroke="#000" stroke-width="1.6"/>
<line x1="269.35" y1="332.40" x2="275.35" y2="332.40" stroke="#000" stroke-width="1.6"/>
<line x1="310.70" y1="313.30" x2="310.70" y2="322.20" stroke="#000" stroke-width="1.6"/>
<line x1="307.70" y1="313.30" x2="313.70" y2="313.30" stroke="#000" stroke-width="1.6"/>
<line x1="307.70" y1="322.20" x2="313.70" y2="322.20" stroke="#000" stroke-width="1.6"/>
<polyline points="272.60,309.00 272.60,304.80 311.30,304.80 311.30,309.00" fill="none" stroke="#000" stroke-width="1.6"/>
<text x="291.70" y="297.40" font-size="10.3" text-anchor="middle" fill="#444" stroke="#444" stroke-width="0.1" textLength="17.30" lengthAdjust="spacingAndGlyphs">N.S.</text>
<text x="257.70" y="399.70" font-size="11.9" text-anchor="start" fill="#333333" stroke="#333333" stroke-width="0.18" textLength="29.70" lengthAdjust="spacingAndGlyphs">CTR-O</text>
<text x="296.40" y="399.70" font-size="11.9" text-anchor="start" fill="#333333" stroke="#333333" stroke-width="0.18" textLength="28.70" lengthAdjust="spacingAndGlyphs">STZ-O</text>
<text transform="translate(208.10,341.00) rotate(-90)" font-size="14.5" text-anchor="middle" fill="#262626" textLength="29.80" lengthAdjust="spacingAndGlyphs">AUC</text>
<text transform="translate(226.10,389.71) rotate(-90)" font-size="15" text-anchor="middle" fill="#262626">(</text>
<text transform="translate(225.80,378.38) rotate(-90)" font-size="15.5" text-anchor="middle" fill="#262626" textLength="11.97" lengthAdjust="spacingAndGlyphs">10</text>
<text transform="translate(220.80,368.17) rotate(-90)" font-size="9.5" text-anchor="middle" fill="#262626" stroke="#262626" stroke-width="0.18">3</text>
<text transform="translate(225.80,347.72) rotate(-90)" font-size="15" text-anchor="middle" fill="#262626" textLength="34.05" lengthAdjust="spacingAndGlyphs">mg/dl</text>
<text transform="translate(226.40,322.55) rotate(-90)" font-size="18" text-anchor="middle" fill="#262626">×</text>
<text transform="translate(225.80,297.92) rotate(-90)" font-size="15" text-anchor="middle" fill="#262626" textLength="23.06" lengthAdjust="spacingAndGlyphs">min</text>
<text transform="translate(226.10,284.72) rotate(-90)" font-size="15" text-anchor="middle" fill="#262626">)</text>
<text transform="translate(246.50,619.00) scale(0.88,1)" font-size="11.2" text-anchor="end" fill="#333333" stroke="#333333" stroke-width="0.18">0</text>
<text transform="translate(246.50,595.33) scale(0.88,1)" font-size="11.2" text-anchor="end" fill="#333333" stroke="#333333" stroke-width="0.18">10</text>
<text transform="translate(246.50,571.65) scale(0.88,1)" font-size="11.2" text-anchor="end" fill="#333333" stroke="#333333" stroke-width="0.18">20</text>
<text transform="translate(246.50,547.97) scale(0.88,1)" font-size="11.2" text-anchor="end" fill="#333333" stroke="#333333" stroke-width="0.18">30</text>
<text transform="translate(246.50,524.30) scale(0.88,1)" font-size="11.2" text-anchor="end" fill="#333333" stroke="#333333" stroke-width="0.18">40</text>
<line x1="255.40" y1="519.90" x2="255.40" y2="615.10" stroke="#000" stroke-width="1.85"/>
<line x1="254.50" y1="614.20" x2="327.70" y2="614.20" stroke="#000" stroke-width="1.85"/>
<rect x="263.60" y="568.20" width="18.90" height="46.00" fill="#fff" stroke="#000" stroke-width="2"/>
<rect x="300.80" y="552.20" width="17.90" height="62.00" fill="#808080" stroke="#000" stroke-width="2"/>
<rect x="270.55" y="566.10" width="5.0" height="4.90" fill="#000"/>
<line x1="309.75" y1="547.40" x2="309.75" y2="557.60" stroke="#000" stroke-width="1.6"/>
<line x1="306.75" y1="547.40" x2="312.75" y2="547.40" stroke="#000" stroke-width="1.6"/>
<line x1="306.75" y1="557.60" x2="312.75" y2="557.60" stroke="#000" stroke-width="1.6"/>
<polyline points="270.30,538.90 270.30,535.00 306.80,535.00 306.80,538.90" fill="none" stroke="#000" stroke-width="1.6"/>
<text transform="translate(289.00,529.30) scale(0.85,1)" font-size="12" text-anchor="middle" fill="#444">**</text>
<text x="257.70" y="630.30" font-size="11.9" text-anchor="start" fill="#333333" stroke="#333333" stroke-width="0.18" textLength="29.10" lengthAdjust="spacingAndGlyphs">CTR-O</text>
<text x="295.30" y="630.30" font-size="11.9" text-anchor="start" fill="#333333" stroke="#333333" stroke-width="0.18" textLength="28.90" lengthAdjust="spacingAndGlyphs">STZ-O</text>
<text transform="translate(207.60,572.00) rotate(-90)" font-size="14.5" text-anchor="middle" fill="#262626" textLength="29.80" lengthAdjust="spacingAndGlyphs">AUC</text>
<text transform="translate(226.10,620.63) rotate(-90)" font-size="15" text-anchor="middle" fill="#262626">(</text>
<text transform="translate(225.80,609.38) rotate(-90)" font-size="15.5" text-anchor="middle" fill="#262626" textLength="11.88" lengthAdjust="spacingAndGlyphs">10</text>
<text transform="translate(220.80,599.25) rotate(-90)" font-size="9.5" text-anchor="middle" fill="#262626" stroke="#262626" stroke-width="0.18">3</text>
<text transform="translate(225.80,578.95) rotate(-90)" font-size="15" text-anchor="middle" fill="#262626" textLength="33.80" lengthAdjust="spacingAndGlyphs">mg/dl</text>
<text transform="translate(226.40,553.96) rotate(-90)" font-size="18" text-anchor="middle" fill="#262626">×</text>
<text transform="translate(225.80,529.51) rotate(-90)" font-size="15" text-anchor="middle" fill="#262626" textLength="22.89" lengthAdjust="spacingAndGlyphs">min</text>
<text transform="translate(226.10,516.41) rotate(-90)" font-size="15" text-anchor="middle" fill="#262626">)</text>
<text transform="translate(572.00,161.00) scale(0.88,1)" font-size="11.2" text-anchor="end" fill="#333333" stroke="#333333" stroke-width="0.18">0</text>
<text transform="translate(572.00,136.62) scale(0.88,1)" font-size="11.2" text-anchor="end" fill="#333333" stroke="#333333" stroke-width="0.18">10</text>
<text transform="translate(572.00,112.25) scale(0.88,1)" font-size="11.2" text-anchor="end" fill="#333333" stroke="#333333" stroke-width="0.18">20</text>
<text transform="translate(572.00,87.88) scale(0.88,1)" font-size="11.2" text-anchor="end" fill="#333333" stroke="#333333" stroke-width="0.18">30</text>
<text transform="translate(572.00,63.50) scale(0.88,1)" font-size="11.2" text-anchor="end" fill="#333333" stroke="#333333" stroke-width="0.18">40</text>
<line x1="580.70" y1="59.70" x2="580.70" y2="157.80" stroke="#000" stroke-width="1.85"/>
<line x1="579.80" y1="156.90" x2="657.00" y2="156.90" stroke="#000" stroke-width="1.85"/>
<rect x="589.90" y="92.80" width="19.50" height="64.10" fill="#fff" stroke="#000" stroke-width="2"/>
<rect x="628.60" y="101.30" width="19.30" height="55.60" fill="#808080" stroke="#000" stroke-width="2"/>
<line x1="599.65" y1="88.30" x2="599.65" y2="98.30" stroke="#000" stroke-width="1.6"/>
<line x1="596.65" y1="88.30" x2="602.65" y2="88.30" stroke="#000" stroke-width="1.6"/>
<line x1="596.65" y1="98.30" x2="602.65" y2="98.30" stroke="#000" stroke-width="1.6"/>
<line x1="638.25" y1="96.50" x2="638.25" y2="106.60" stroke="#000" stroke-width="1.6"/>
<line x1="635.25" y1="96.50" x2="641.25" y2="96.50" stroke="#000" stroke-width="1.6"/>
<line x1="635.25" y1="106.60" x2="641.25" y2="106.60" stroke="#000" stroke-width="1.6"/>
<polyline points="600.30,83.50 600.30,79.70 638.40,79.70 638.40,83.50" fill="none" stroke="#000" stroke-width="1.6"/>
<text x="619.10" y="73.20" font-size="10.3" text-anchor="middle" fill="#444" stroke="#444" stroke-width="0.1" textLength="17.30" lengthAdjust="spacingAndGlyphs">N.S.</text>
<text x="584.80" y="173.60" font-size="11.9" text-anchor="start" fill="#333333" stroke="#333333" stroke-width="0.18" textLength="29.60" lengthAdjust="spacingAndGlyphs">CTR-O</text>
<text x="624.20" y="173.60" font-size="11.9" text-anchor="start" fill="#333333" stroke="#333333" stroke-width="0.18" textLength="28.40" lengthAdjust="spacingAndGlyphs">STZ-O</text>
<text transform="translate(534.80,112.20) rotate(-90)" font-size="14.5" text-anchor="middle" fill="#262626" textLength="29.80" lengthAdjust="spacingAndGlyphs">AUC</text>
<text transform="translate(554.10,161.23) rotate(-90)" font-size="15" text-anchor="middle" fill="#262626">(</text>
<text transform="translate(553.80,149.98) rotate(-90)" font-size="15.5" text-anchor="middle" fill="#262626" textLength="11.88" lengthAdjust="spacingAndGlyphs">10</text>
<text transform="translate(548.80,139.85) rotate(-90)" font-size="9.5" text-anchor="middle" fill="#262626" stroke="#262626" stroke-width="0.18">3</text>
<text transform="translate(553.80,119.55) rotate(-90)" font-size="15" text-anchor="middle" fill="#262626" textLength="33.80" lengthAdjust="spacingAndGlyphs">mg/dl</text>
<text transform="translate(554.40,94.56) rotate(-90)" font-size="18" text-anchor="middle" fill="#262626">×</text>
<text transform="translate(553.80,70.11) rotate(-90)" font-size="15" text-anchor="middle" fill="#262626" textLength="22.89" lengthAdjust="spacingAndGlyphs">min</text>
<text transform="translate(554.10,57.01) rotate(-90)" font-size="15" text-anchor="middle" fill="#262626">)</text>
<text transform="translate(572.50,387.00) scale(0.88,1)" font-size="11.2" text-anchor="end" fill="#333333" stroke="#333333" stroke-width="0.18">0</text>
<text transform="translate(572.50,362.62) scale(0.88,1)" font-size="11.2" text-anchor="end" fill="#333333" stroke="#333333" stroke-width="0.18">10</text>
<text transform="translate(572.50,338.25) scale(0.88,1)" font-size="11.2" text-anchor="end" fill="#333333" stroke="#333333" stroke-width="0.18">20</text>
<text transform="translate(572.50,313.88) scale(0.88,1)" font-size="11.2" text-anchor="end" fill="#333333" stroke="#333333" stroke-width="0.18">30</text>
<text transform="translate(572.50,289.50) scale(0.88,1)" font-size="11.2" text-anchor="end" fill="#333333" stroke="#333333" stroke-width="0.18">40</text>
<line x1="580.70" y1="285.10" x2="580.70" y2="383.80" stroke="#000" stroke-width="1.85"/>
<line x1="579.80" y1="382.90" x2="657.00" y2="382.90" stroke="#000" stroke-width="1.85"/>
<rect x="589.80" y="327.30" width="19.50" height="55.60" fill="#fff" stroke="#000" stroke-width="2"/>
<rect x="628.70" y="316.90" width="19.20" height="66.00" fill="#808080" stroke="#000" stroke-width="2"/>
<rect x="597.05" y="325.00" width="5.0" height="4.30" fill="#000"/>
<line x1="638.30" y1="311.30" x2="638.30" y2="322.80" stroke="#000" stroke-width="1.6"/>
<line x1="635.30" y1="311.30" x2="641.30" y2="311.30" stroke="#000" stroke-width="1.6"/>
<line x1="635.30" y1="322.80" x2="641.30" y2="322.80" stroke="#000" stroke-width="1.6"/>
<polyline points="599.70,304.70 599.70,301.30 638.30,301.30 638.30,304.70" fill="none" stroke="#000" stroke-width="1.6"/>
<text x="619.20" y="294.40" font-size="10.3" text-anchor="middle" fill="#444" stroke="#444" stroke-width="0.1" textLength="17.30" lengthAdjust="spacingAndGlyphs">N.S.</text>
<text x="584.80" y="399.00" font-size="11.9" text-anchor="start" fill="#333333" stroke="#333333" stroke-width="0.18" textLength="29.60" lengthAdjust="spacingAndGlyphs">CTR-O</text>
<text x="624.20" y="399.00" font-size="11.9" text-anchor="start" fill="#333333" stroke="#333333" stroke-width="0.18" textLength="28.40" lengthAdjust="spacingAndGlyphs">STZ-O</text>
<text transform="translate(535.00,341.00) rotate(-90)" font-size="14.5" text-anchor="middle" fill="#262626" textLength="29.80" lengthAdjust="spacingAndGlyphs">AUC</text>
<text transform="translate(554.10,389.68) rotate(-90)" font-size="15" text-anchor="middle" fill="#262626">(</text>
<text transform="translate(553.80,378.26) rotate(-90)" font-size="15.5" text-anchor="middle" fill="#262626" textLength="12.07" lengthAdjust="spacingAndGlyphs">10</text>
<text transform="translate(548.80,367.97) rotate(-90)" font-size="9.5" text-anchor="middle" fill="#262626" stroke="#262626" stroke-width="0.18">3</text>
<text transform="translate(553.80,347.34) rotate(-90)" font-size="15" text-anchor="middle" fill="#262626" textLength="34.33" lengthAdjust="spacingAndGlyphs">mg/dl</text>
<text transform="translate(554.40,321.97) rotate(-90)" font-size="18" text-anchor="middle" fill="#262626">×</text>
<text transform="translate(553.80,297.14) rotate(-90)" font-size="15" text-anchor="middle" fill="#262626" textLength="23.25" lengthAdjust="spacingAndGlyphs">min</text>
<text transform="translate(554.10,283.83) rotate(-90)" font-size="15" text-anchor="middle" fill="#262626">)</text>
<text transform="translate(572.00,620.60) scale(0.88,1)" font-size="11.2" text-anchor="end" fill="#333333" stroke="#333333" stroke-width="0.18">0</text>
<text transform="translate(572.00,596.50) scale(0.88,1)" font-size="11.2" text-anchor="end" fill="#333333" stroke="#333333" stroke-width="0.18">10</text>
<text transform="translate(572.00,572.40) scale(0.88,1)" font-size="11.2" text-anchor="end" fill="#333333" stroke="#333333" stroke-width="0.18">20</text>
<text transform="translate(572.00,548.30) scale(0.88,1)" font-size="11.2" text-anchor="end" fill="#333333" stroke="#333333" stroke-width="0.18">30</text>
<text transform="translate(572.00,524.20) scale(0.88,1)" font-size="11.2" text-anchor="end" fill="#333333" stroke="#333333" stroke-width="0.18">40</text>
<line x1="580.70" y1="520.10" x2="580.70" y2="616.90" stroke="#000" stroke-width="1.85"/>
<line x1="579.80" y1="616.00" x2="657.00" y2="616.00" stroke="#000" stroke-width="1.85"/>
<rect x="589.90" y="568.30" width="19.50" height="47.70" fill="#fff" stroke="#000" stroke-width="2"/>
<rect x="628.60" y="558.80" width="19.30" height="57.20" fill="#808080" stroke="#000" stroke-width="2"/>
<rect x="597.15" y="566.10" width="5.0" height="4.60" fill="#000"/>
<rect x="635.75" y="555.90" width="5.0" height="5.10" fill="#000"/>
<polyline points="599.70,547.80 599.70,544.00 639.30,544.00 639.30,547.80" fill="none" stroke="#000" stroke-width="1.6"/>
<text transform="translate(620.60,539.00) scale(0.85,1)" font-size="12" text-anchor="middle" fill="#444">*</text>
<text x="585.20" y="632.50" font-size="11.9" text-anchor="start" fill="#333333" stroke="#333333" stroke-width="0.18" textLength="28.90" lengthAdjust="spacingAndGlyphs">CTR-O</text>
<text x="624.30" y="632.50" font-size="11.9" text-anchor="start" fill="#333333" stroke="#333333" stroke-width="0.18" textLength="28.10" lengthAdjust="spacingAndGlyphs">STZ-O</text>
<text transform="translate(535.00,571.80) rotate(-90)" font-size="14.5" text-anchor="middle" fill="#262626" textLength="29.80" lengthAdjust="spacingAndGlyphs">AUC</text>
<text transform="translate(554.10,620.63) rotate(-90)" font-size="15" text-anchor="middle" fill="#262626">(</text>
<text transform="translate(553.80,609.38) rotate(-90)" font-size="15.5" text-anchor="middle" fill="#262626" textLength="11.88" lengthAdjust="spacingAndGlyphs">10</text>
<text transform="translate(548.80,599.25) rotate(-90)" font-size="9.5" text-anchor="middle" fill="#262626" stroke="#262626" stroke-width="0.18">3</text>
<text transform="translate(553.80,578.95) rotate(-90)" font-size="15" text-anchor="middle" fill="#262626" textLength="33.80" lengthAdjust="spacingAndGlyphs">mg/dl</text>
<text transform="translate(554.40,553.96) rotate(-90)" font-size="18" text-anchor="middle" fill="#262626">×</text>
<text transform="translate(553.80,529.51) rotate(-90)" font-size="15" text-anchor="middle" fill="#262626" textLength="22.89" lengthAdjust="spacingAndGlyphs">min</text>
<text transform="translate(554.10,516.41) rotate(-90)" font-size="15" text-anchor="middle" fill="#262626">)</text>
</svg>
</body></html>
